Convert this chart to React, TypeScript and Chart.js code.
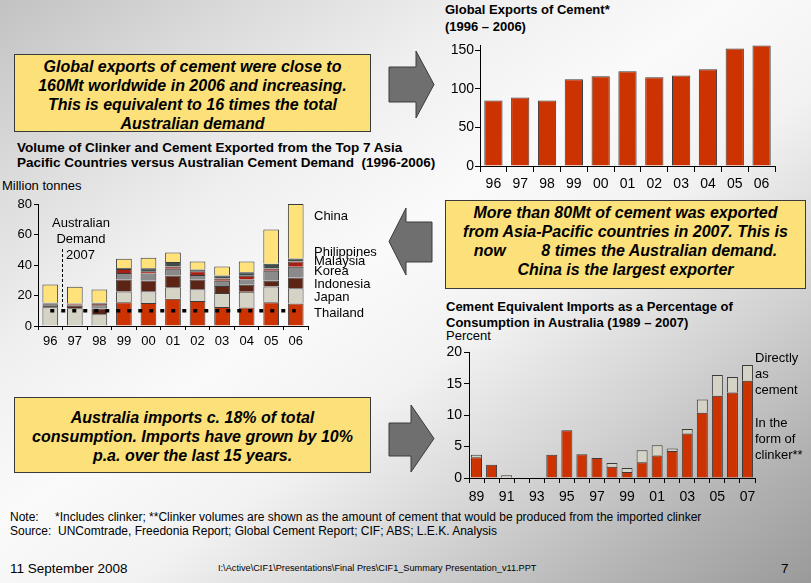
import React, { useEffect, useRef } from "react";
import { Chart, registerables } from "chart.js";

Chart.register(...registerables);

const FONT = "'Liberation Sans', Arial, Helvetica, sans-serif";

// Global exports of cement (Mt), 1996-2006
const exportYears = ["96", "97", "98", "99", "00", "01", "02", "03", "04", "05", "06"];
const globalExports = [85, 89, 85, 112.5, 116.5, 123, 115, 117.5, 125.5, 152.5, 156.5];
const exportTicks = [0, 50, 100, 150];

// Clinker and cement exported from the top 7 Asia-Pacific countries (Mt)
const asiaYears = ["96", "97", "98", "99", "00", "01", "02", "03", "04", "05", "06"];
const thailand = [0, 0, 0, 15.6, 15.1, 17.8, 16.4, 12.5, 12.1, 15.6, 14.7];
const japan = [12.3, 11.7, 7.7, 7.0, 7.7, 7.6, 7.7, 9.2, 10.3, 10.3, 10.1];
const indonesia = [0.8, 1.5, 3.7, 7.9, 7.0, 7.7, 6.4, 4.6, 4.6, 3.7, 7.0];
const korea = [1.2, 0.6, 2.2, 4.3, 4.6, 4.4, 3.0, 3.3, 3.5, 6.6, 7.0];
const malaysia = [0.4, 0.5, 1.0, 2.5, 1.5, 1.5, 2.4, 1.5, 2.4, 1.5, 3.5];
const philippines = [0.6, 0.5, 0.6, 0.8, 2.0, 2.9, 1.1, 2.0, 2.4, 3.1, 2.0];
const china = [11.9, 10.9, 8.7, 6.0, 6.8, 6.3, 5.3, 5.9, 7.0, 22.5, 35.7];
const australianDemand2007 = [10, 10, 10, 10, 10, 10, 10, 10, 10, 10, 10];
const asiaTicks = [0, 20, 40, 60, 80];

// Cement-equivalent imports as % of Australian consumption, 1989-2007
const importYears = ["89", "90", "91", "92", "93", "94", "95", "96", "97", "98", "99", "00", "01", "02", "03", "04", "05", "06", "07"];
const clinkerImports = [3.3, 2.1, 0, 0, 0, 3.7, 7.6, 3.8, 3.2, 1.8, 0.95, 2.5, 3.6, 4.3, 7.1, 10.4, 13.1, 13.6, 15.5];
const cementImports = [0.4, 0, 0.45, 0, 0.12, 0, 0, 0, 0, 0.6, 0.65, 1.9, 1.6, 0.4, 0.7, 2.1, 3.3, 2.5, 2.5];
const importTicks = [0, 5, 10, 15, 20];

const RED = "#CC3300";
const BEIGE = "#D5D2C6";
const BROWN = "#5B2414";
const GREY = "#8A8A8A";
const DARK_RED = "#A81E10";
const SLATE = "#3E4C4A";
const YELLOW = "#FFE27A";
const OUTLINE = "#3A3A3A";

type AxisOpts = {
  max: number;
  ticks: number[];
  width: number;
  fontSize: number;
  tickLength: number;
  padding: number;
  stacked?: boolean;
};

function valueAxis(o: AxisOpts) {
  return {
    type: "linear",
    min: 0,
    max: o.max,
    stacked: !!o.stacked,
    afterFit: (s: any) => {
      s.width = o.width;
    },
    afterBuildTicks: (s: any) => {
      s.ticks = o.ticks.map((v) => ({ value: v }));
    },
    border: { display: true, color: "#000", width: 1 },
    grid: { display: true, drawOnChartArea: false, drawTicks: true, tickLength: o.tickLength, color: "#000" },
    ticks: { color: "#000", font: { family: FONT, size: o.fontSize }, padding: o.padding },
  };
}

function categoryAxis(height: number, fontSize: number, tickLength: number, padding: number, stacked = false, callback?: any) {
  return {
    type: "category",
    offset: true,
    stacked,
    afterFit: (s: any) => {
      s.height = height;
    },
    border: { display: true, color: "#000", width: 1 },
    grid: { display: true, offset: true, drawOnChartArea: false, drawTicks: true, tickLength, color: "#000" },
    ticks: {
      color: "#000",
      font: { family: FONT, size: fontSize },
      padding,
      autoSkip: false,
      maxRotation: 0,
      ...(callback ? { callback } : {}),
    },
  };
}

const basePlugins = { legend: { display: false }, tooltip: { enabled: false } };

function globalExportsConfig(): any {
  return {
    type: "bar",
    data: {
      labels: exportYears,
      datasets: [
        {
          data: globalExports,
          backgroundColor: RED,
          borderColor: OUTLINE,
          borderWidth: 1,
          barPercentage: 0.68,
          categoryPercentage: 1,
        },
      ],
    },
    options: {
      animation: false,
      responsive: false,
      layout: { padding: { top: 10, right: 10, left: 0, bottom: 0 } },
      plugins: basePlugins,
      scales: {
        x: categoryAxis(29, 14, 6, 4),
        y: valueAxis({ max: 157, ticks: exportTicks, width: 40, fontSize: 14, tickLength: 5, padding: 1 }),
      },
    },
  };
}

function asiaConfig(): any {
  const seg = (label: string, data: number[], color: string) => ({
    type: "bar",
    label,
    data,
    backgroundColor: color,
    borderColor: OUTLINE,
    borderWidth: 1,
    barPercentage: 0.64,
    categoryPercentage: 1,
    stack: "exports",
    order: 1,
  });
  return {
    type: "bar",
    data: {
      labels: asiaYears,
      datasets: [
        seg("Thailand", thailand, RED),
        seg("Japan", japan, BEIGE),
        seg("Indonesia", indonesia, BROWN),
        seg("Korea", korea, GREY),
        seg("Malaysia", malaysia, DARK_RED),
        seg("Philippines", philippines, SLATE),
        seg("China", china, YELLOW),
        {
          type: "line",
          label: "Australian Demand 2007",
          data: australianDemand2007,
          stack: "demand",
          borderColor: "#000",
          borderWidth: 3.5,
          borderDash: [4, 7],
          borderCapStyle: "butt",
          pointRadius: 0,
          fill: false,
          order: 0,
        },
      ],
    },
    options: {
      animation: false,
      responsive: false,
      layout: { padding: { top: 10, right: 10, left: 0, bottom: 0 } },
      plugins: basePlugins,
      scales: {
        x: categoryAxis(28, 13, 4, 4, true),
        y: valueAxis({ max: 80, ticks: asiaTicks, width: 38, fontSize: 13, tickLength: 4, padding: 2, stacked: true }),
      },
    },
  };
}

function importsConfig(): any {
  const seg = (label: string, data: number[], color: string) => ({
    label,
    data,
    backgroundColor: color,
    borderColor: OUTLINE,
    borderWidth: 1,
    barPercentage: 0.73,
    categoryPercentage: 1,
  });
  return {
    type: "bar",
    data: {
      labels: importYears,
      datasets: [seg("In the form of clinker", clinkerImports, RED), seg("Directly as cement", cementImports, BEIGE)],
    },
    options: {
      animation: false,
      responsive: false,
      layout: { padding: { top: 10, right: 10, left: 0, bottom: 0 } },
      plugins: basePlugins,
      scales: {
        x: categoryAxis(29, 14, 5, 6, true, (_v: any, i: number) => (i % 2 === 0 ? importYears[i] : "")),
        y: valueAxis({ max: 20, ticks: importTicks, width: 44, fontSize: 14, tickLength: 5, padding: 2, stacked: true }),
      },
    },
  };
}

function ChartCanvas(props: { left: number; top: number; width: number; height: number; config: () => any }) {
  const ref = useRef<HTMLCanvasElement | null>(null);
  useEffect(() => {
    if (!ref.current) return;
    const chart = new Chart(ref.current, props.config());
    return () => chart.destroy();
  }, []);
  return (
    <canvas
      ref={ref}
      width={props.width}
      height={props.height}
      style={{ position: "absolute", left: props.left, top: props.top, width: props.width, height: props.height }}
    />
  );
}

function Label(props: {
  x: number;
  y: number;
  size?: number;
  bold?: boolean;
  italic?: boolean;
  align?: "left" | "center" | "right";
  w?: number;
  children: React.ReactNode;
}) {
  const size = props.size ?? 13;
  const lh = Math.round(size * 1.2);
  const align = props.align ?? "left";
  const w = props.w ?? 400;
  const left = align === "center" ? props.x - w / 2 : align === "right" ? props.x - w : props.x;
  return (
    <div
      style={{
        position: "absolute",
        left,
        top: props.y - lh / 2,
        width: align === "left" ? undefined : w,
        textAlign: align,
        fontFamily: FONT,
        fontSize: size,
        lineHeight: `${lh}px`,
        fontWeight: props.bold ? "bold" : "normal",
        fontStyle: props.italic ? "italic" : "normal",
        whiteSpace: "pre",
        color: "#000",
      }}
    >
      {props.children}
    </div>
  );
}

function Callout(props: { left: number; top: number; width: number; height: number; lines: string[]; firstY: number }) {
  return (
    <div
      style={{
        position: "absolute",
        left: props.left,
        top: props.top,
        width: props.width,
        height: props.height,
        background: "#FCE07A",
        border: "1px solid #3A3A3A",
        boxSizing: "border-box",
      }}
    >
      {props.lines.map((t, i) => (
        <div
          key={i}
          style={{
            position: "absolute",
            left: 0,
            right: 0,
            top: props.firstY - props.top - 10 + i * 19,
            height: 20,
            lineHeight: "20px",
            textAlign: "center",
            fontFamily: FONT,
            fontSize: 16,
            fontWeight: "bold",
            fontStyle: "italic",
            whiteSpace: "pre",
            color: "#000",
          }}
        >
          {t}
        </div>
      ))}
    </div>
  );
}

function Arrows() {
  const fill = "#6F6F6F";
  const stroke = "#3C3C3C";
  return (
    <svg width={811} height={583} style={{ position: "absolute", left: 0, top: 0, pointerEvents: "none" }}>
      <polygon points="389,67 416,67 416,51 434,84.5 416,118 416,102 389,102" fill={fill} stroke={stroke} />
      <polygon points="432,222 406,222 406,208 389,241.5 406,275 406,262 432,262" fill={fill} stroke={stroke} />
      <polygon points="389,423 411,423 411,405 434,438.5 411,472 411,456 389,456" fill={fill} stroke={stroke} />
    </svg>
  );
}

export default function App() {
  return (
    <div
      style={{
        position: "fixed",
        left: 0,
        top: 0,
        width: 811,
        height: 583,
        overflow: "hidden",
        background:
          "linear-gradient(to bottom right, #c2c2c2 0%, #dadada 15%, #efefef 30%, #fafafa 45%, #f2f2f2 58%, #d2d2d2 74%, #b2b2b2 88%, #9a9a9a 100%)",
      }}
    >
      <Arrows />

      <Callout
        left={14}
        top={54}
        width={357}
        height={78}
        firstY={65.5}
        lines={[
          "Global exports of cement were close to",
          "160Mt worldwide in 2006 and increasing.",
          "This is equivalent to 16 times the total",
          "Australian demand",
        ]}
      />
      <Callout
        left={445}
        top={200}
        width={361}
        height={89}
        firstY={212}
        lines={[
          "More than 80Mt of cement was exported",
          "from Asia-Pacific countries in 2007. This is",
          "now        8 times the Australian demand.",
          "China is the largest exporter",
        ]}
      />
      <Callout
        left={14}
        top={397}
        width={357}
        height={76}
        firstY={417}
        lines={[
          "Australia imports c. 18% of total",
          "consumption. Imports have grown by 10%",
          "p.a. over the last 15 years.",
        ]}
      />

      {/* Global exports chart */}
      <Label x={445} y={10} bold>
        Global Exports of Cement*
      </Label>
      <Label x={445} y={27} bold>
        (1996 – 2006)
      </Label>
      <ChartCanvas left={440} top={35} width={345} height={160} config={globalExportsConfig} />

      {/* Asia-Pacific exports chart */}
      <Label x={17} y={148} size={13.5} bold>
        Volume of Clinker and Cement Exported from the Top 7 Asia
      </Label>
      <Label x={17} y={163} size={13.5} bold>
        Pacific Countries versus Australian Cement Demand  (1996-2006)
      </Label>
      <Label x={2} y={186} size={13}>
        Million tonnes
      </Label>
      <ChartCanvas left={0} top={194} width={318} height={160} config={asiaConfig} />
      <Label x={81} y={223} align="center" w={80}>
        Australian
      </Label>
      <Label x={81} y={239} align="center" w={80}>
        Demand
      </Label>
      <Label x={66} y={255}>
        2007
      </Label>
      <div
        style={{
          position: "absolute",
          left: 62,
          top: 249,
          width: 0,
          height: 58,
          borderLeft: "1px dashed #000",
        }}
      />
      <Label x={314} y={216}>China</Label>
      <Label x={314} y={252}>Philippines</Label>
      <Label x={314} y={261}>Malaysia</Label>
      <Label x={314} y={271}>Korea</Label>
      <Label x={314} y={284}>Indonesia</Label>
      <Label x={314} y={297}>Japan</Label>
      <Label x={314} y={313}>Thailand</Label>

      {/* Imports chart */}
      <Label x={446} y={307} bold>
        Cement Equivalent Imports as a Percentage of
      </Label>
      <Label x={446} y={323} bold>
        Consumption in Australia (1989 – 2007)
      </Label>
      <Label x={446} y={336}>
        Percent
      </Label>
      <ChartCanvas left={425} top={342} width={340} height={165} config={importsConfig} />
      <Label x={755} y={358}>Directly</Label>
      <Label x={755} y={374}>as</Label>
      <Label x={755} y={390}>cement</Label>
      <Label x={755} y={423}>In the</Label>
      <Label x={755} y={439}>form of</Label>
      <Label x={755} y={455}>clinker**</Label>

      {/* Footnotes */}
      <Label x={10} y={517} size={12}>
        {"Note:"}
      </Label>
      <Label x={55} y={517} size={12}>
        {"*Includes clinker; **Clinker volumes are shown as the amount of cement that would be produced from the imported clinker"}
      </Label>
      <Label x={10} y={531} size={12}>
        {"Source:  UNComtrade, Freedonia Report; Global Cement Report; CIF; ABS; L.E.K. Analysis"}
      </Label>
      <Label x={10} y={569} size={13.5}>
        11 September 2008
      </Label>
      <Label x={218} y={568} size={9.2}>
        {"I:\\Active\\CIF1\\Presentations\\Final Pres\\CIF1_Summary Presentation_v11.PPT"}
      </Label>
      <Label x={781} y={569} size={13.5}>
        7
      </Label>
    </div>
  );
}
